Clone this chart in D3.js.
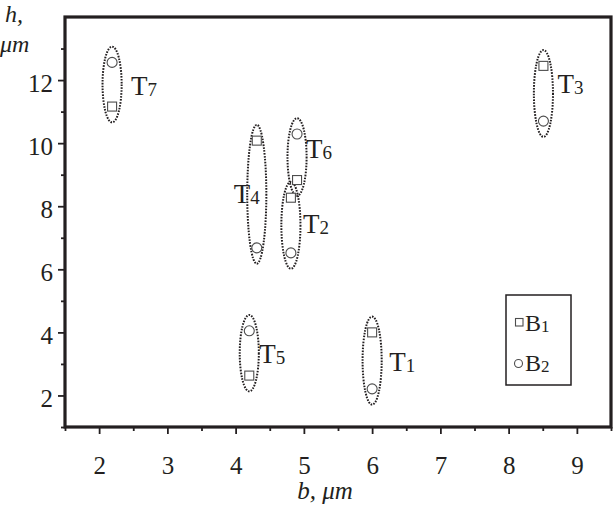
<!DOCTYPE html>
<html>
<head>
<meta charset="utf-8">
<script src="https://d3js.org/d3.v7.min.js"></script>
<style>
  html, body { margin: 0; padding: 0; background: #fff; }
  svg { display: block; font-family: 'Liberation Serif', 'Times New Roman', serif; }
  .tick text { font-family: 'Liberation Serif', serif; font-size: 25px; fill: #231f20; }
  .tick line { stroke: #231f20; stroke-width: 1.8; }
</style>
</head>
<body>
<svg id="chart" width="613" height="505"></svg>
<script>
// structures T1..T7, each with a B1 (square) and a B2 (circle) point
var names  = ['1', '2', '3', '4', '5', '6', '7'];
var bVals  = [6.0, 4.81, 8.51, 4.31, 4.2, 4.9, 2.19];
var hB1    = [4.0, 8.27, 12.45, 10.08, 2.63, 8.83, 11.16];
var hB2    = [2.21, 6.52, 10.7, 6.68, 4.05, 10.29, 12.56];

var xMajor = [2, 3, 4, 5, 6, 7, 8, 9];
var xMinor = [1.5, 2.5, 3.5, 4.5, 5.5, 6.5, 7.5, 8.5, 9.5];
var yMajor = [2, 4, 6, 8, 10, 12];
var yMinor = [1, 3, 5, 7, 9, 11, 13];

var ink = '#231f20', grey = '#4d4d4d';
var svg = d3.select('#chart');
var m = { left: 65, right: 611, top: 17, bottom: 427 };

var x = d3.scaleLinear().domain([1.5, 9.5]).range([m.left, m.right]);
var y = d3.scaleLinear().domain([1, 14]).range([m.bottom, m.top]);

// axes: minor ticks first, then labelled majors
svg.append('g').attr('transform', 'translate(0,' + m.bottom + ')')
   .call(d3.axisBottom(x).tickValues(xMinor).tickSize(4).tickFormat(''))
   .call(function(g){ g.select('.domain').remove(); });
svg.append('g').attr('transform', 'translate(0,' + m.bottom + ')')
   .call(d3.axisBottom(x).tickValues(xMajor).tickSize(7).tickPadding(22).tickFormat(d3.format('d')))
   .call(function(g){ g.select('.domain').remove(); });
svg.append('g').attr('transform', 'translate(' + m.left + ',0)')
   .call(d3.axisLeft(y).tickValues(yMinor).tickSize(4).tickFormat(''))
   .call(function(g){ g.select('.domain').remove(); });
svg.append('g').attr('transform', 'translate(' + m.left + ',0)')
   .call(d3.axisLeft(y).tickValues(yMajor).tickSize(7).tickPadding(5).tickFormat(d3.format('d')))
   .call(function(g){ g.select('.domain').remove(); })
   .selectAll('text').attr('dy', '0.45em');

// frame
svg.append('rect')
   .attr('x', m.left).attr('y', m.top)
   .attr('width', m.right - m.left).attr('height', m.bottom - m.top)
   .attr('fill', 'none').attr('stroke', ink).attr('stroke-width', 3.2);

var data = names.map(function(n, i){
  return { name: n, b: bVals[i], h1: hB1[i], h2: hB2[i] };
});

// dotted ellipses round each pair
var pad = 0.5, halfW = 0.14;
svg.append('g').selectAll('ellipse').data(data).enter().append('ellipse')
   .attr('cx', function(d){ return x(d.b); })
   .attr('cy', function(d){ return y((d.h1 + d.h2) / 2); })
   .attr('rx', function(d){ return x(d.b + halfW) - x(d.b); })
   .attr('ry', function(d){ return y(1) - y(1 + Math.abs(d.h1 - d.h2) / 2 + pad); })
   .attr('fill', 'none').attr('stroke', ink)
   .attr('stroke-width', 2).attr('stroke-dasharray', '1.6 1.3');

// B1 squares
var sq = 9;
svg.append('g').selectAll('rect').data(data).enter().append('rect')
   .attr('x', function(d){ return x(d.b) - sq / 2; })
   .attr('y', function(d){ return y(d.h1) - sq / 2; })
   .attr('width', sq).attr('height', sq)
   .attr('fill', '#fff').attr('stroke', grey).attr('stroke-width', 1.1);

// B2 circles
svg.append('g').selectAll('circle').data(data).enter().append('circle')
   .attr('cx', function(d){ return x(d.b); })
   .attr('cy', function(d){ return y(d.h2); })
   .attr('r', 5)
   .attr('fill', '#fff').attr('stroke', grey).attr('stroke-width', 1.1);

// T labels (offset in pixels from the upper point)
var labelPos = {
  '1': [17, 39], '2': [12, 35], '3': [14, 27], '4': [-23, 62],
  '5': [10, 32], '6': [9, 24], '7': [19, 33]
};
var lab = svg.append('g').selectAll('text').data(data).enter().append('text')
   .attr('x', function(d){ return x(d.b) + labelPos[d.name][0]; })
   .attr('y', function(d){ return y(Math.max(d.h1, d.h2)) + labelPos[d.name][1]; })
   .attr('font-size', 27).attr('fill', ink);
lab.append('tspan').text('T');
lab.append('tspan').attr('font-size', 19).attr('dy', 1).text(function(d){ return d.name; });

// legend
svg.append('rect').attr('x', 506).attr('y', 295).attr('width', 65).attr('height', 90)
   .attr('fill', '#fff').attr('stroke', ink).attr('stroke-width', 1.5);
svg.append('rect').attr('x', 515.5).attr('y', 318.5).attr('width', 7.5).attr('height', 7.5)
   .attr('fill', '#fff').attr('stroke', grey).attr('stroke-width', 1.1);
svg.append('circle').attr('cx', 518.5).attr('cy', 363.5).attr('r', 4)
   .attr('fill', '#fff').attr('stroke', grey).attr('stroke-width', 1.1);
var legNames = ['1', '2'];
legNames.forEach(function(n, i){
  var t = svg.append('text').attr('x', 525).attr('y', 331 + i * 40)
     .attr('font-size', 24).attr('fill', ink);
  t.append('tspan').text('B');
  t.append('tspan').attr('font-size', 17).attr('dy', 1).text(n);
});

// axis titles
svg.append('text').attr('x', 5).attr('y', 22)
   .attr('font-size', 24).attr('font-style', 'italic').attr('fill', ink).text('h,');
svg.append('text').attr('x', 0).attr('y', 52)
   .attr('font-size', 24).attr('font-style', 'italic').attr('fill', ink).text('μm');
svg.append('text').attr('x', 325).attr('y', 499).attr('text-anchor', 'middle')
   .attr('font-size', 25).attr('font-style', 'italic').attr('fill', ink).text('b, μm');
</script>
</body>
</html>
